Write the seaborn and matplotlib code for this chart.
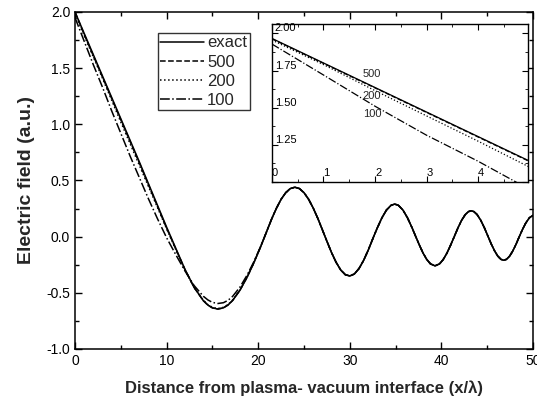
import numpy as np
import pandas as pd
import seaborn as sns
import matplotlib.pyplot as plt
from matplotlib.ticker import MultipleLocator, FuncFormatter

# main curves
# start of the curve (the four runs differ here)
x_head = [0, 1, 2, 3, 4, 5, 6, 7, 8, 9, 10, 11, 12, 13,
          14, 14.5, 15, 15.6, 16.2, 16.7, 17.2, 18, 18.8, 19.5, 20.2, 20.7]
exact_head = [2.0, 1.81, 1.62, 1.43, 1.24, 1.05, 0.86, 0.67, 0.475, 0.28, 0.085, -0.103, -0.29, -0.451,
              -0.569, -0.609, -0.634, -0.645, -0.634, -0.609, -0.569, -0.478, -0.359, -0.237, -0.103, 0.0]
n500_head = [2.0, 1.80, 1.61, 1.42, 1.23, 1.04, 0.85, 0.66, 0.465, 0.27, 0.075, -0.11, -0.293, -0.452,
             -0.569, -0.609, -0.634, -0.644, -0.633, -0.608, -0.568, -0.477, -0.358, -0.236, -0.102, 0.0]
n200_head = [1.985, 1.79, 1.60, 1.41, 1.215, 1.02, 0.83, 0.64, 0.45, 0.26, 0.07, -0.115, -0.295, -0.452,
             -0.566, -0.605, -0.629, -0.64, -0.629, -0.605, -0.565, -0.475, -0.357, -0.236, -0.102, 0.0]
n100_head = [1.95, 1.74, 1.53, 1.33, 1.12, 0.92, 0.72, 0.53, 0.34, 0.16, -0.01, -0.16, -0.305, -0.435,
             -0.53, -0.563, -0.585, -0.595, -0.588, -0.567, -0.532, -0.45, -0.34, -0.227, -0.099, 0.0]

# rest of the curve (all four runs lie on top of each other)
x_tail = [21.0, 21.5, 22.0, 22.5, 23.0, 23.5, 24.0, 24.5, 25.0, 25.5, 26.0, 26.5, 27.0, 27.3,
          27.5, 28.0, 28.5, 29.0, 29.5, 30.0, 30.5, 31.0, 31.5, 32.0, 32.6,
          33.0, 33.5, 34.0, 34.5, 34.9, 35.3, 35.8, 36.3, 36.8, 37.2,
          37.6, 38.0, 38.4, 38.8, 39.3, 39.8, 40.2, 40.6, 41.0, 41.4,
          41.8, 42.2, 42.6, 42.95, 43.25, 43.55, 43.9, 44.3, 44.7, 45.1,
          45.45, 45.8, 46.15, 46.5, 46.8, 47.1, 47.45, 47.8, 48.15, 48.5,
          48.85, 49.2, 49.6, 50.0]
tail = [0.062, 0.164, 0.255, 0.333, 0.391, 0.428, 0.44, 0.428, 0.391, 0.333, 0.255, 0.164, 0.062, 0.0,
        -0.041, -0.141, -0.228, -0.296, -0.338, -0.35, -0.332, -0.284, -0.212, -0.122, 0.0,
        0.078, 0.167, 0.237, 0.279, 0.29, 0.279, 0.237, 0.167, 0.078, 0.0,
        -0.076, -0.147, -0.203, -0.242, -0.26, -0.242, -0.203, -0.147, -0.076, 0.0,
        0.077, 0.145, 0.196, 0.223, 0.23, 0.223, 0.196, 0.145, 0.077, 0.0,
        -0.067, -0.126, -0.173, -0.202, -0.21, -0.202, -0.173, -0.126, -0.067, 0.0,
        0.064, 0.12, 0.168, 0.19]

x_main = x_head + x_tail
main = [exact_head + tail, n500_head + tail, n200_head + tail, n100_head + tail]

# inset (zoom of the start)
x_inset = [0, 1, 2, 3, 4, 5]
in_exact = [1.966, 1.801, 1.636, 1.471, 1.306, 1.141]
in_500 = [1.963, 1.798, 1.633, 1.468, 1.303, 1.138]
in_200 = [1.955, 1.79, 1.615, 1.445, 1.275, 1.10]
in_100 = [1.928, 1.72, 1.51, 1.315, 1.14, 0.95]
inset = [in_exact, in_500, in_200, in_100]

labels = ['exact', '500', '200', '100']
styles = ['-', '--', ':', '-.']

sns.set_style('ticks')
plt.rcParams['font.family'] = ['Liberation Sans', 'DejaVu Sans']
plt.rcParams['axes.unicode_minus'] = False

fig = plt.figure(figsize=(5.37, 4.01), dpi=100)
ax = fig.add_axes([0.1397, 0.1297, 0.8529, 0.8404])

for lab, ls, ys in zip(labels, styles, main):
    df = pd.DataFrame({'x': x_main, 'y': ys})
    sns.lineplot(data=df, x='x', y='y', ax=ax, color='black', lw=1.1,
                 linestyle=ls, label=lab, estimator=None, sort=False)

ax.set_xlim(0, 50)
ax.set_ylim(-1.0, 2.0)
ax.xaxis.set_major_locator(MultipleLocator(10))
ax.xaxis.set_minor_locator(MultipleLocator(5))
ax.yaxis.set_major_locator(MultipleLocator(0.5))
ax.yaxis.set_minor_locator(MultipleLocator(0.25))
ax.tick_params(which='both', direction='in', top=True, right=True,
               labelsize=10, width=1, colors='black')
ax.tick_params(which='major', length=5)
ax.tick_params(which='minor', length=3)
for s in ax.spines.values():
    s.set_linewidth(1.1)
    s.set_color('black')
ax.set_xlabel('Distance from plasma- vacuum interface (x/λ)',
              fontsize=12, fontweight='bold', labelpad=9)
ax.set_ylabel('Electric field (a.u.)', fontsize=14, fontweight='bold', labelpad=8)

leg = ax.legend(loc='upper left', bbox_to_anchor=(0.181, 0.938), fontsize=12,
                frameon=True, fancybox=False, handlelength=2.6,
                handletextpad=0.2, labelspacing=0.25, borderpad=0.15,
                borderaxespad=0)
leg.get_frame().set_edgecolor('black')
leg.get_frame().set_linewidth(1.0)

# inset
axi = fig.add_axes([0.5065, 0.5461, 0.4767, 0.394])
for lab, ls, ys in zip(labels, styles, inset):
    df = pd.DataFrame({'x': x_inset, 'y': ys})
    sns.lineplot(data=df, x='x', y='y', ax=axi, color='black', lw=0.9,
                 linestyle=ls, estimator=None, sort=False, legend=False)
axi.set_xlim(0, 4.97)
axi.set_ylim(1.0, 2.063)
axi.set_xlabel('')
axi.set_ylabel('')
axi.xaxis.set_major_locator(MultipleLocator(1))
axi.xaxis.set_minor_locator(MultipleLocator(0.5))
axi.yaxis.set_major_locator(MultipleLocator(0.25))
axi.yaxis.set_minor_locator(MultipleLocator(0.125))
axi.yaxis.set_major_formatter(FuncFormatter(lambda v, p: '' if v < 1.1 else f'{v:.2f}'))
axi.tick_params(which='both', direction='in', top=True, right=True,
                labelsize=8, colors='black')
axi.tick_params(which='major', length=4)
axi.tick_params(which='minor', length=2.5)
axi.tick_params(axis='x', pad=-3)
axi.tick_params(axis='y', pad=-2)
for t in axi.get_xticklabels():
    t.set_ha('left')
    t.set_va('bottom')
for t in axi.get_yticklabels():
    t.set_ha('left')
    t.set_va('bottom')
for s in axi.spines.values():
    s.set_linewidth(1.0)
    s.set_color('black')

for txt, yy in zip(['500', '200', '100'], [1.73, 1.576, 1.455]):
    axi.text(1.76, yy, txt, fontsize=8, ha='left', va='center')

fig.savefig('out.png', dpi=100)
